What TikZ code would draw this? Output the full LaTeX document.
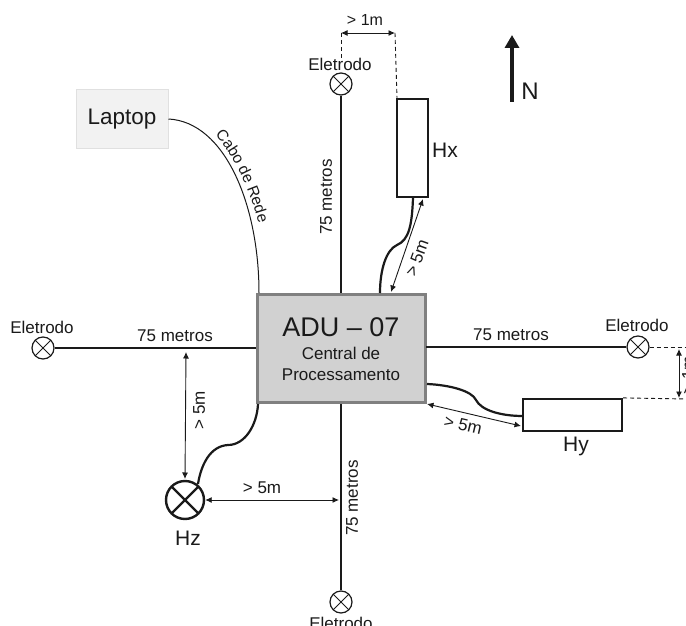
\documentclass[tikz,border=0pt]{standalone}
\usepackage{fontspec}
\setmainfont{Liberation Sans}
\usetikzlibrary{arrows.meta,decorations.text}
\definecolor{ink}{HTML}{1A1A1A}
\tikzset{
  x=1pt,y=-1pt,
  every node/.style={text=ink,inner sep=0pt,font=\fontsize{17}{20}\selectfont},
  wire/.style={draw=ink,line width=2.4pt},
  cable/.style={draw=ink,line width=2.2pt},
  dim/.style={draw=ink,line width=0.9pt,{Latex[length=6.5pt,width=6pt]}-{Latex[length=6.5pt,width=6pt]}},
  dashline/.style={draw=ink,line width=0.9pt,dash pattern=on 4pt off 3pt},
  sensor/.style={draw=ink,rectangle,fill=white,line width=2.2pt},
  biglabel/.style={font=\fontsize{21}{25}\selectfont},
  crossmark/.style={circle,draw=ink,fill=white,inner sep=0pt,minimum size=#1,
    path picture={\draw[ink,line width=1pt] (path picture bounding box.center) ++(45:#1/2) -- ++(225:#1)
      (path picture bounding box.center) ++(135:#1/2) -- ++(-45:#1);}},
  elec/.style={crossmark=22pt,line width=1.2pt},
}
\begin{document}
\begin{tikzpicture}
\useasboundingbox (0,0) rectangle (686,626);
\clip (0,0) rectangle (686,626);
\fill[white] (0,0) rectangle (686,626);

\node[draw=black!50,fill=black!18,line width=3pt,minimum width=168pt,minimum height=108pt] (adu) at (341,348.5) {};
\node[font=\fontsize{27}{32}\selectfont] (adut) at (341,327) {ADU – 07};
\node[font=\fontsize{17}{21.5}\selectfont,align=center] (adus) at (341,364) {Central de\\Processamento};

\node[draw=black!12,fill=black!5,line width=1pt,minimum width=92pt,minimum height=58pt,font=\fontsize{22.5}{26}\selectfont] (laptop) at (122,119) {Laptop};

\node[elec] (et) at (341,84) {};
\node[elec] (el) at (43,348) {};
\node[elec] (er) at (638,347) {};
\node[elec] (eb) at (341,602) {};
\node (etl) at (340,64) {Eletrodo};
\node (ell) at (42,327) {Eletrodo};
\node (erl) at (637,325) {Eletrodo};
\node (ebl) at (341,623) {Eletrodo};

\coordinate (at) at (341,293);
\coordinate (al) at (256,348);
\coordinate (ar) at (426,347);
\coordinate (ab) at (341,404);
\draw[wire] (et) -- (at);
\draw[wire] (el) -- (al);
\draw[wire] (er) -- (ar);
\draw[wire] (eb) -- (ab);
\node[rotate=90] (m1) at (326,197) {75 metros};
\node (m2) at (175,336) {75 metros};
\node (m3) at (511,335) {75 metros};
\node[rotate=90] (m4) at (352,498) {75 metros};

\node[sensor,minimum width=31pt,minimum height=98pt] (hx) at (412.5,148) {};
\node[biglabel] (hxl) at (445,150) {Hx};
\node[sensor,minimum width=99pt,minimum height=32pt] (hy) at (572.5,415) {};
\node[biglabel] (hyl) at (576,446) {Hy};
\node[circle,draw=ink,fill=white,line width=2.4pt,inner sep=0pt,minimum size=38pt,
  path picture={\draw[ink,line width=2.2pt] (path picture bounding box.center) ++(45:19pt) -- ++(225:38pt)
      (path picture bounding box.center) ++(135:19pt) -- ++(-45:38pt);}] (hz) at (185,500) {};
\node[biglabel] (hzl) at (188,538) {Hz};

% cables
\coordinate (cx0) at (413,198);
\coordinate (cx1) at (380,293);
\draw[cable] (cx0) .. controls (412,225) and (409,240) .. (397,245) .. controls (386,250) and (380,270) .. (cx1);
\coordinate (cy0) at (427,384);
\coordinate (cy1) at (523,416);
\draw[cable] (cy0) .. controls (450,385) and (472,391) .. (476,400) .. controls (481,410) and (500,416) .. (cy1);
\coordinate (cz0) at (258,404);
\coordinate (cz1) at (198,484);
\draw[cable] (cz0) .. controls (257,425) and (245,445) .. (228,445) .. controls (210,446) and (201,465) .. (cz1);

\draw[draw=ink,line width=1pt] (laptop.east) .. controls (225,122) and (259,205) .. (259,293);
\path[postaction={decorate,decoration={text along path,text align=center,
   text={|\fontsize{15.5}{18}\selectfont\color{ink}|Cabo de Rede}}}]
   (206,125) .. controls (230,147) and (250,186) .. (262,236);

% dimensions
\coordinate (d1a) at (341,33);
\coordinate (d1b) at (395,33);
\draw[dashline] (d1a) -- (341,58);
\draw[dashline] (d1b) -- (397,98);
\draw[dim] (d1a) -- (d1b);
\node[font=\fontsize{16}{19}\selectfont] (d1t) at (365,20) {> 1m};

\coordinate (x5a) at (423,199);
\coordinate (x5b) at (391,292);
\draw[dim] (x5a) -- (x5b);
\node[rotate=70] (x5t) at (417,258) {> 5m};

\coordinate (y5a) at (427,404);
\coordinate (y5b) at (521,426);
\draw[dim] (y5a) -- (y5b);
\node[rotate=-13] (y5t) at (463,425) {> 5m};

\coordinate (z5a) at (186,352);
\coordinate (z5b) at (185,479);
\draw[dim] (z5a) -- (z5b);
\node[rotate=90] (z5t) at (199,410) {> 5m};

\coordinate (h5b) at (339,500);
\draw[dim] (hz) -- (h5b);
\node (h5t) at (262,488) {> 5m};

\draw[dashline] (er) -- (686,347);
\draw[dashline] (hy.north east) -- (686,399);
\draw[dim] (679,349) -- (679,398);
\node[rotate=90] (r1t) at (688,375) {> 1m};

% north
\coordinate (ns) at (512,102);
\coordinate (nn) at (512,35);
\draw[draw=ink,line width=4pt,-{Triangle[length=13pt,width=14pt]}] (ns) -- (nn);
\node[font=\fontsize{24}{28}\selectfont] (nl) at (530,91) {N};
\end{tikzpicture}
\end{document}
